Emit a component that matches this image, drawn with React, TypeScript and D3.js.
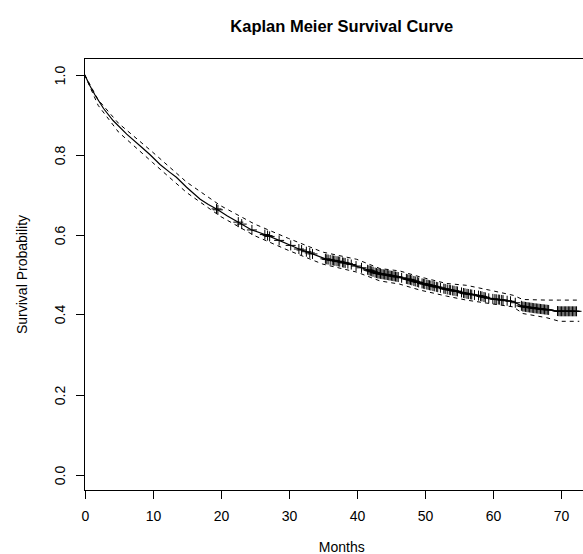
import React, { useEffect, useRef } from "react";
import * as d3 from "d3";

// survival estimate (months, probability)
const survTimes = [0, 0.8, 1.5, 2.8, 4.2, 6.2, 8.4, 9.6, 11.1, 12.5, 13.5, 15, 16, 17, 18.2, 19.4, 21, 22.8, 24.5, 26.8, 28.5, 30, 31.6, 33.1, 35.6, 37.5, 39, 41.4, 43, 44.4, 46.3, 47.8, 49.3, 51, 53.2, 55, 56.1, 58, 59.5, 61.5, 63, 64.4, 66, 67.9, 69.8, 72.7];
const survValues = [1.0, 0.972, 0.95, 0.915, 0.885, 0.851, 0.818, 0.8, 0.775, 0.756, 0.743, 0.718, 0.703, 0.688, 0.675, 0.664, 0.646, 0.629, 0.612, 0.598, 0.586, 0.575, 0.563, 0.554, 0.538, 0.532, 0.526, 0.513, 0.503, 0.499, 0.493, 0.487, 0.479, 0.472, 0.463, 0.457, 0.452, 0.447, 0.44, 0.436, 0.432, 0.42, 0.416, 0.412, 0.408, 0.408];

// confidence band
const ciTimes = [0, 2, 5, 10, 15, 20, 25, 30, 35, 40, 43.4, 46.3, 49.3, 53.2, 56.1, 59.5, 63, 64.4, 67.9, 69.8, 72.7];
const ciUpper = [1.0, 0.937, 0.878, 0.806, 0.731, 0.672, 0.626, 0.59, 0.556, 0.538, 0.515, 0.509, 0.494, 0.4775, 0.473, 0.461, 0.448, 0.4375, 0.436, 0.436, 0.436];
const ciLower = [1.0, 0.923, 0.856, 0.78, 0.705, 0.645, 0.597, 0.56, 0.526, 0.506, 0.484, 0.476, 0.461, 0.446, 0.436, 0.4275, 0.419, 0.4025, 0.392, 0.383, 0.383];

// censoring times (the + marks)
const censorTimes = [19.4, 19.6, 22.6, 23.1, 24.6, 26.5, 26.9, 27.2, 28.6, 30.3, 31.5, 31.9, 32.6, 33.1, 33.5, 35.4, 35.6, 35.8, 36.1, 36.4, 36.6, 36.8, 37.1, 37.3, 37.5, 37.9, 38.1, 38.3, 38.7, 39.2, 39.9, 40.7, 41.6, 41.8, 42.0, 42.2, 42.4, 42.7, 42.9, 43.1, 43.3, 43.5, 43.7, 43.9, 44.1, 44.3, 44.5, 44.7, 44.9, 45.1, 45.3, 45.5, 45.7, 45.9, 46.1, 46.6, 47.3, 47.5, 47.7, 47.9, 48.1, 48.4, 48.6, 48.9, 49.1, 49.6, 49.8, 50.0, 50.3, 50.5, 50.7, 50.9, 51.2, 51.4, 51.7, 51.9, 52.3, 52.8, 53.0, 53.3, 53.6, 53.8, 54.1, 54.3, 54.6, 54.8, 55.4, 55.7, 55.9, 56.2, 56.4, 56.7, 56.9, 57.3, 57.9, 58.2, 58.4, 58.7, 58.9, 59.4, 60.0, 60.3, 60.5, 60.8, 61.0, 61.3, 61.5, 62.1, 62.6, 63.3, 64.2, 64.4, 64.6, 64.8, 65.0, 65.2, 65.4, 65.6, 65.8, 66.0, 66.2, 66.4, 66.6, 66.8, 67.0, 67.2, 67.4, 67.6, 67.8, 68.0, 68.2, 69.5, 69.7, 69.9, 70.1, 70.3, 70.5, 70.7, 70.9, 71.1, 71.3, 71.5, 71.7, 71.9, 72.1, 72.3];

const xTicks = [0, 10, 20, 30, 40, 50, 60, 70];
const yTicks = [0.0, 0.2, 0.4, 0.6, 0.8, 1.0];

const W = 583;
const H = 554;
const font = "'Liberation Sans', Arial, Helvetica, sans-serif";

export default function App() {
  const ref = useRef<SVGSVGElement>(null);

  useEffect(() => {
    const svg = d3.select(ref.current);
    svg.selectAll("*").remove();

    const x = d3.scaleLinear().domain([0, 75.6]).range([84.5, 599]);
    const y = d3.scaleLinear().domain([-0.04, 1.04]).range([490.5, 58.5]);

    // box
    svg.append("rect")
      .attr("x", x(0)).attr("y", y(1.04))
      .attr("width", x(75.6) - x(0)).attr("height", y(-0.04) - y(1.04))
      .attr("fill", "none").attr("stroke", "black").attr("stroke-width", 1);

    // x axis
    const xa = svg.append("g");
    xa.append("line")
      .attr("x1", x(0)).attr("x2", x(70))
      .attr("y1", y(-0.04)).attr("y2", y(-0.04))
      .attr("stroke", "black");
    xTicks.forEach((t) => {
      const px = Math.round(x(t)) + 0.5;
      xa.append("line")
        .attr("x1", px).attr("x2", px)
        .attr("y1", y(-0.04)).attr("y2", y(-0.04) + 8.5)
        .attr("stroke", "black");
      xa.append("text")
        .attr("x", px).attr("y", 521)
        .attr("text-anchor", "middle")
        .attr("font-family", font).attr("font-size", 14)
        .text(String(t));
    });

    // y axis
    const ya = svg.append("g");
    ya.append("line")
      .attr("x1", x(0)).attr("x2", x(0))
      .attr("y1", y(0)).attr("y2", y(1))
      .attr("stroke", "black");
    yTicks.forEach((v) => {
      const py = Math.round(y(v)) + 0.5;
      ya.append("line")
        .attr("x1", x(0) - 8.5).attr("x2", x(0))
        .attr("y1", py).attr("y2", py)
        .attr("stroke", "black");
      ya.append("text")
        .attr("transform", "translate(65," + py + ") rotate(-90)")
        .attr("text-anchor", "middle")
        .attr("font-family", font).attr("font-size", 14)
        .text(v.toFixed(1));
    });

    // labels
    const cx = (x(0) + x(75.6)) / 2;
    svg.append("text")
      .attr("x", cx).attr("y", 32)
      .attr("text-anchor", "middle")
      .attr("font-family", font).attr("font-size", 16.5).attr("font-weight", "bold")
      .text("Kaplan Meier Survival Curve");
    svg.append("text")
      .attr("x", cx).attr("y", 552)
      .attr("text-anchor", "middle")
      .attr("font-family", font).attr("font-size", 14)
      .text("Months");
    svg.append("text")
      .attr("transform", "translate(27," + (y(1.04) + y(-0.04)) / 2 + ") rotate(-90)")
      .attr("text-anchor", "middle")
      .attr("font-family", font).attr("font-size", 14)
      .text("Survival Probability");

    const line = d3.line<number>()
      .x((d) => x(d))
      .curve(d3.curveLinear);

    // confidence band
    svg.append("path")
      .attr("d", line.y((d, i) => y(ciUpper[i]))(ciTimes))
      .attr("fill", "none").attr("stroke", "black")
      .attr("stroke-width", 1).attr("stroke-dasharray", "4,4");
    svg.append("path")
      .attr("d", line.y((d, i) => y(ciLower[i]))(ciTimes))
      .attr("fill", "none").attr("stroke", "black")
      .attr("stroke-width", 1).attr("stroke-dasharray", "4,4");

    // survival curve
    svg.append("path")
      .attr("d", line.y((d, i) => y(survValues[i]))(survTimes))
      .attr("fill", "none").attr("stroke", "black").attr("stroke-width", 1.2);

    // censor marks
    const survAt = d3.scaleLinear().domain(survTimes).range(survValues);
    const marks = svg.append("g");
    censorTimes.forEach((t) => {
      const px = x(t);
      const py = y(survAt(t));
      marks.append("line")
        .attr("x1", px).attr("x2", px).attr("y1", py - 5).attr("y2", py + 5)
        .attr("stroke", "black").attr("stroke-width", 1);
      marks.append("line")
        .attr("x1", px - 5).attr("x2", px + 5).attr("y1", py).attr("y2", py)
        .attr("stroke", "black").attr("stroke-width", 1);
    });
  }, []);

  return (
    <svg
      ref={ref}
      width={W}
      height={H}
      style={{ position: "absolute", left: 0, top: 0, background: "white" }}
    />
  );
}
